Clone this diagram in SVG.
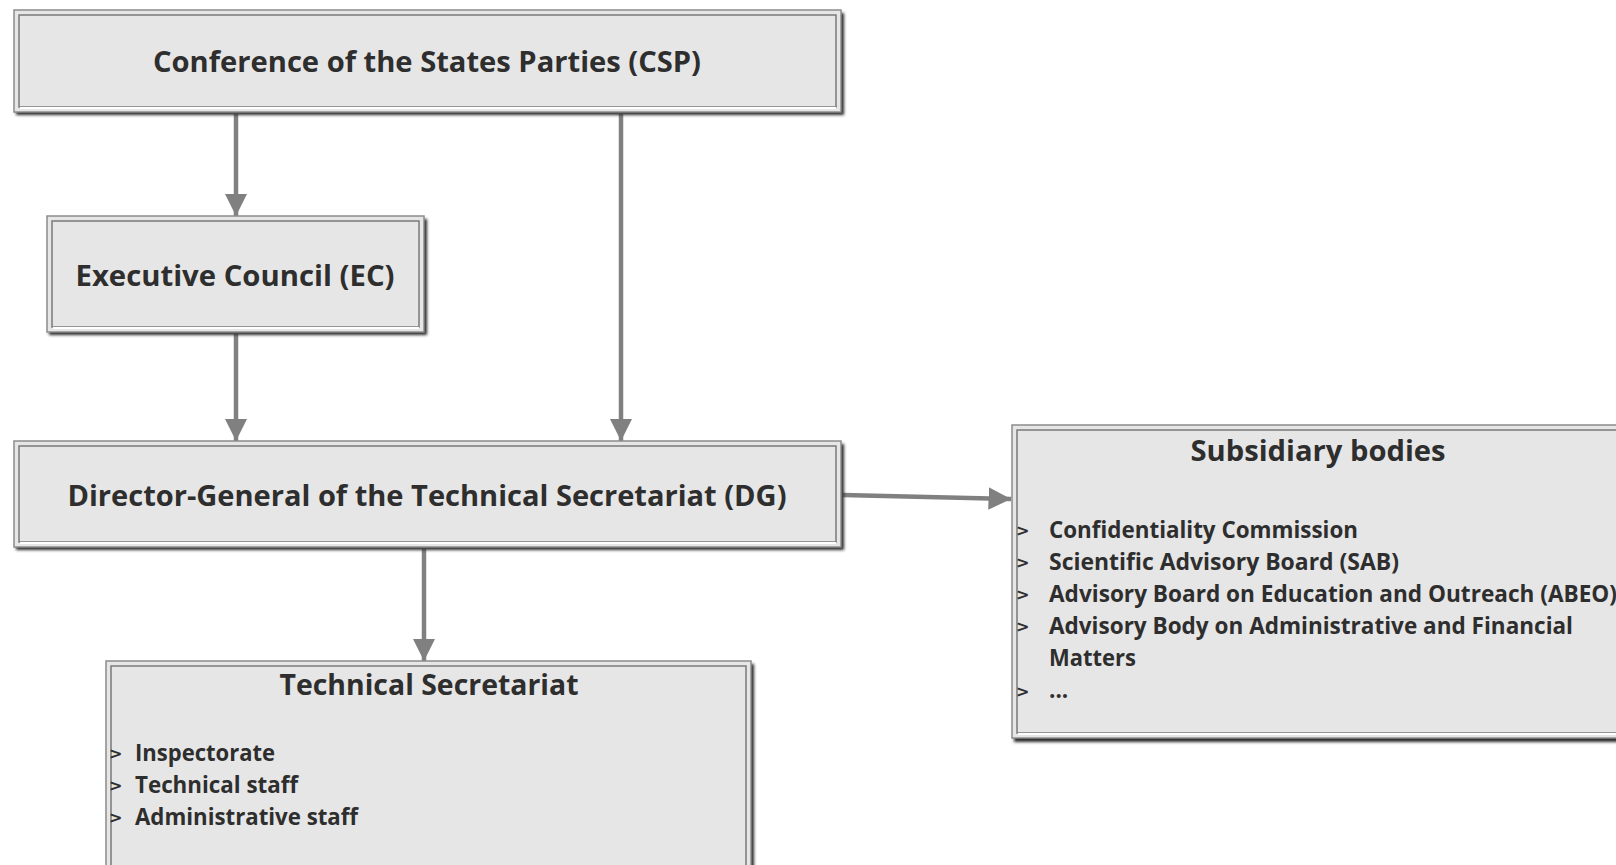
<svg xmlns="http://www.w3.org/2000/svg" width="1616" height="865" viewBox="0 0 1616 865">
<defs>
<filter id="sh" x="-5%" y="-10%" width="115%" height="130%">
<feGaussianBlur stdDeviation="1.5"/>
</filter>
<marker id="ah" viewBox="0 0 10 10" refX="10" refY="5" markerWidth="5" markerHeight="5" markerUnits="strokeWidth" orient="auto">
<path d="M0,0 L10,5 L0,10 Z" fill="#808080"/>
</marker>
</defs>
<style>
.shadow{fill:#2a2a2a;filter:url(#sh)}
.box{fill:#e6e6e6;stroke:#8c8c8c;stroke-width:1.5}
.inner{fill:none;stroke:#7a7a7a;stroke-width:1.5}
.hl{fill:none;stroke:#ffffff;stroke-width:2}
.t{font-family:"Open Sans","Noto Sans",sans-serif;font-weight:bold;fill:#2e2e2e}
.title{font-size:29px;text-anchor:middle}
.item{font-size:22.5px}
.bul{font-family:"DejaVu Sans",sans-serif;font-size:16px;font-weight:bold;fill:#2e2e2e}
.conn{stroke:#808080;stroke-width:4.5;fill:none;marker-end:url(#ah)}
</style>
<rect width="1616" height="865" fill="#ffffff"/>

<g id="connectors">
<line class="conn" x1="236" y1="114" x2="236" y2="216"/>
<line class="conn" x1="621" y1="114" x2="621" y2="441"/>
<line class="conn" x1="236" y1="334" x2="236" y2="441"/>
<line class="conn" x1="424" y1="549" x2="424" y2="661"/>
<line class="conn" x1="843" y1="495" x2="1011" y2="499"/>
</g>

<g id="csp">
<rect class="shadow" x="16" y="13" width="828" height="102"/>
<rect class="box" x="14" y="10" width="827" height="102"/>
<rect class="inner" x="19" y="15" width="817" height="92"/>
<path class="hl" d="M20,108 H836"/>
<text class="t title" x="427" y="72" textLength="548" lengthAdjust="spacingAndGlyphs">Conference of the States Parties (CSP)</text>
</g>

<g id="ec">
<rect class="shadow" x="49" y="219" width="378" height="116"/>
<rect class="box" x="47" y="216" width="377" height="116"/>
<rect class="inner" x="52" y="221" width="367" height="106"/>
<path class="hl" d="M53,328 H419"/>
<text class="t title" x="235" y="286" textLength="319" lengthAdjust="spacingAndGlyphs">Executive Council (EC)</text>
</g>

<g id="dg">
<rect class="shadow" x="16" y="444" width="828" height="106"/>
<rect class="box" x="14" y="441" width="827" height="106"/>
<rect class="inner" x="19" y="446" width="817" height="96"/>
<path class="hl" d="M20,543 H836"/>
<text class="t title" x="427" y="506" textLength="719" lengthAdjust="spacingAndGlyphs">Director-General of the Technical Secretariat (DG)</text>
</g>

<g id="subsidiary">
<rect class="shadow" x="1014" y="428" width="610" height="314"/>
<rect class="box" x="1012" y="425" width="610" height="313"/>
<rect class="inner" x="1017" y="430" width="610" height="303"/>
<path class="hl" d="M1018,734 H1616"/>
<text class="t title" x="1318" y="461" textLength="255" lengthAdjust="spacingAndGlyphs">Subsidiary bodies</text>
<text class="bul" x="1016" y="536">&gt;</text>
<text class="t item" x="1049" y="538" textLength="309" lengthAdjust="spacingAndGlyphs">Confidentiality Commission</text>
<text class="bul" x="1016" y="568">&gt;</text>
<text class="t item" x="1049" y="570" textLength="350" lengthAdjust="spacingAndGlyphs">Scientific Advisory Board (SAB)</text>
<text class="bul" x="1016" y="600">&gt;</text>
<text class="t item" x="1049" y="602" textLength="568" lengthAdjust="spacingAndGlyphs">Advisory Board on Education and Outreach (ABEO)</text>
<text class="bul" x="1016" y="632">&gt;</text>
<text class="t item" x="1049" y="634" textLength="524" lengthAdjust="spacingAndGlyphs">Advisory Body on Administrative and Financial</text>
<text class="t item" x="1049" y="666" textLength="87" lengthAdjust="spacingAndGlyphs">Matters</text>
<text class="bul" x="1016" y="697">&gt;</text>
<text class="t item" x="1049" y="698">...</text>
</g>

<g id="ts">
<rect class="shadow" x="108" y="664" width="646" height="210"/>
<rect class="box" x="106" y="661" width="645" height="210"/>
<rect class="inner" x="111" y="666" width="635" height="200"/>
<text class="t title" x="429" y="695" textLength="299" lengthAdjust="spacingAndGlyphs">Technical Secretariat</text>
<text class="bul" x="109" y="759">&gt;</text>
<text class="t item" x="135" y="761" textLength="140" lengthAdjust="spacingAndGlyphs">Inspectorate</text>
<text class="bul" x="109" y="791">&gt;</text>
<text class="t item" x="135" y="793" textLength="163" lengthAdjust="spacingAndGlyphs">Technical staff</text>
<text class="bul" x="109" y="823">&gt;</text>
<text class="t item" x="135" y="825" textLength="223" lengthAdjust="spacingAndGlyphs">Administrative staff</text>
</g>
</svg>
